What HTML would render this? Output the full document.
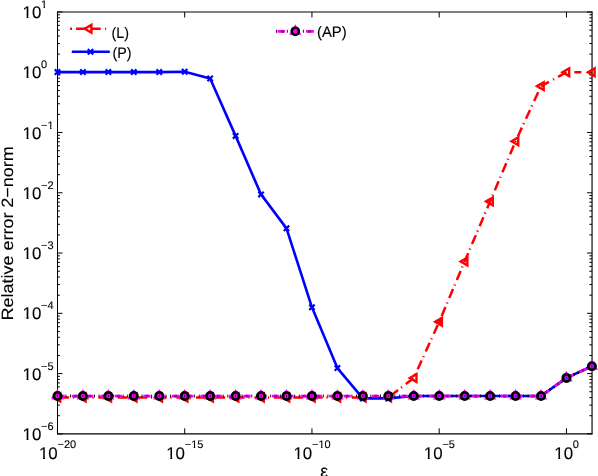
<!DOCTYPE html>
<html><head><meta charset="utf-8"><title>plot</title>
<style>html,body{margin:0;padding:0;background:#fff;}body{width:598px;height:476px;overflow:hidden;}svg{display:block;font-family:"Liberation Sans",sans-serif;text-rendering:geometricPrecision;}</style>
</head><body>
<svg width="598" height="476" viewBox="0 0 598 476">
<rect width="598" height="476" fill="#fff"/>
<g fill="none" stroke="#000" stroke-width="1">
<path d="M57.00 12.00H592.65" stroke-width="1.05"/>
<path d="M57.00 433.85H592.65" stroke-width="1.15"/>
<path d="M592.05 12.00V433.85" stroke-width="1.15"/>
<path d="M57.50 11.70V434.35"/>
<path d="M57.50 12.00h5M592.05 12.00h-5M57.50 54.12h2.4M592.05 54.12h-2.7M57.50 43.51h2.4M592.05 43.51h-2.7M57.50 35.98h2.4M592.05 35.98h-2.7M57.50 30.14h2.4M592.05 30.14h-2.7M57.50 25.37h2.4M592.05 25.37h-2.7M57.50 21.34h2.4M592.05 21.34h-2.7M57.50 17.84h2.4M592.05 17.84h-2.7M57.50 14.76h2.4M592.05 14.76h-2.7M57.50 72.26h5M592.05 72.26h-5M57.50 114.39h2.4M592.05 114.39h-2.7M57.50 103.78h2.4M592.05 103.78h-2.7M57.50 96.25h2.4M592.05 96.25h-2.7M57.50 90.41h2.4M592.05 90.41h-2.7M57.50 85.63h2.4M592.05 85.63h-2.7M57.50 81.60h2.4M592.05 81.60h-2.7M57.50 78.10h2.4M592.05 78.10h-2.7M57.50 75.02h2.4M592.05 75.02h-2.7M57.50 132.53h5M592.05 132.53h-5M57.50 174.65h2.4M592.05 174.65h-2.7M57.50 164.04h2.4M592.05 164.04h-2.7M57.50 156.51h2.4M592.05 156.51h-2.7M57.50 150.67h2.4M592.05 150.67h-2.7M57.50 145.90h2.4M592.05 145.90h-2.7M57.50 141.86h2.4M592.05 141.86h-2.7M57.50 138.37h2.4M592.05 138.37h-2.7M57.50 135.29h2.4M592.05 135.29h-2.7M57.50 192.79h5M592.05 192.79h-5M57.50 234.92h2.4M592.05 234.92h-2.7M57.50 224.30h2.4M592.05 224.30h-2.7M57.50 216.77h2.4M592.05 216.77h-2.7M57.50 210.93h2.4M592.05 210.93h-2.7M57.50 206.16h2.4M592.05 206.16h-2.7M57.50 202.13h2.4M592.05 202.13h-2.7M57.50 198.63h2.4M592.05 198.63h-2.7M57.50 195.55h2.4M592.05 195.55h-2.7M57.50 253.06h5M592.05 253.06h-5M57.50 295.18h2.4M592.05 295.18h-2.7M57.50 284.57h2.4M592.05 284.57h-2.7M57.50 277.04h2.4M592.05 277.04h-2.7M57.50 271.20h2.4M592.05 271.20h-2.7M57.50 266.43h2.4M592.05 266.43h-2.7M57.50 262.39h2.4M592.05 262.39h-2.7M57.50 258.90h2.4M592.05 258.90h-2.7M57.50 255.81h2.4M592.05 255.81h-2.7M57.50 313.32h5M592.05 313.32h-5M57.50 355.44h2.4M592.05 355.44h-2.7M57.50 344.83h2.4M592.05 344.83h-2.7M57.50 337.30h2.4M592.05 337.30h-2.7M57.50 331.46h2.4M592.05 331.46h-2.7M57.50 326.69h2.4M592.05 326.69h-2.7M57.50 322.66h2.4M592.05 322.66h-2.7M57.50 319.16h2.4M592.05 319.16h-2.7M57.50 316.08h2.4M592.05 316.08h-2.7M57.50 373.59h5M592.05 373.59h-5M57.50 415.71h2.4M592.05 415.71h-2.7M57.50 405.10h2.4M592.05 405.10h-2.7M57.50 397.57h2.4M592.05 397.57h-2.7M57.50 391.73h2.4M592.05 391.73h-2.7M57.50 386.96h2.4M592.05 386.96h-2.7M57.50 382.92h2.4M592.05 382.92h-2.7M57.50 379.43h2.4M592.05 379.43h-2.7M57.50 376.34h2.4M592.05 376.34h-2.7M57.50 433.85h5M592.05 433.85h-5M57.45 433.85v-5.5M57.45 12.00v5.5M184.70 433.85v-5.5M184.70 12.00v5.5M311.95 433.85v-5.5M311.95 12.00v5.5M439.20 433.85v-5.5M439.20 12.00v5.5M566.45 433.85v-5.5M566.45 12.00v5.5"/>
</g>
<g fill="#000" stroke="#000" stroke-width="0.12" style="filter:grayscale(1)">
<clipPath id="c0"><rect x="-37.50" y="-0.44" width="69.40" height="16.53"/><rect x="26.50" y="15.59" width="1.99" height="3.56"/><rect x="31.90" y="-0.44" width="120.00" height="25.35"/><rect x="-37.50" y="-0.44" width="60.00" height="25.35"/></clipPath>
<text x="22.50" y="18.15" font-size="16.90" textLength="18.79" lengthAdjust="spacingAndGlyphs" clip-path="url(#c0)">10</text>
<clipPath id="c1"><rect x="-18.91" y="-4.10" width="66.12" height="10.48"/><rect x="43.61" y="5.88" width="1.47" height="3.12"/><rect x="47.21" y="-4.10" width="120.00" height="16.50"/><rect x="-18.91" y="-4.10" width="60.00" height="16.50"/></clipPath>
<text x="41.09" y="8.00" font-size="11.00" clip-path="url(#c1)">1</text>
<clipPath id="c2"><rect x="-37.50" y="59.82" width="69.40" height="16.53"/><rect x="26.50" y="75.85" width="1.99" height="3.56"/><rect x="31.90" y="59.82" width="120.00" height="25.35"/><rect x="-37.50" y="59.82" width="60.00" height="25.35"/></clipPath>
<text x="22.50" y="78.41" font-size="16.90" textLength="18.79" lengthAdjust="spacingAndGlyphs" clip-path="url(#c2)">10</text>
<text x="41.09" y="68.26" font-size="11.00">0</text>
<clipPath id="c3"><rect x="-37.50" y="120.09" width="69.40" height="16.53"/><rect x="26.50" y="136.12" width="1.99" height="3.56"/><rect x="31.90" y="120.09" width="120.00" height="25.35"/><rect x="-37.50" y="120.09" width="60.00" height="25.35"/></clipPath>
<text x="22.50" y="138.68" font-size="16.90" textLength="18.79" lengthAdjust="spacingAndGlyphs" clip-path="url(#c3)">10</text>
<clipPath id="c4"><rect x="-12.48" y="116.43" width="66.12" height="10.48"/><rect x="50.03" y="126.41" width="1.47" height="3.12"/><rect x="53.63" y="116.43" width="120.00" height="16.50"/><rect x="-12.48" y="116.43" width="60.00" height="16.50"/></clipPath>
<text x="41.09" y="128.53" font-size="11.00" clip-path="url(#c4)">−1</text>
<clipPath id="c5"><rect x="-37.50" y="180.35" width="69.40" height="16.53"/><rect x="26.50" y="196.38" width="1.99" height="3.56"/><rect x="31.90" y="180.35" width="120.00" height="25.35"/><rect x="-37.50" y="180.35" width="60.00" height="25.35"/></clipPath>
<text x="22.50" y="198.94" font-size="16.90" textLength="18.79" lengthAdjust="spacingAndGlyphs" clip-path="url(#c5)">10</text>
<text x="41.09" y="188.79" font-size="11.00">−2</text>
<clipPath id="c6"><rect x="-37.50" y="240.62" width="69.40" height="16.53"/><rect x="26.50" y="256.64" width="1.99" height="3.56"/><rect x="31.90" y="240.62" width="120.00" height="25.35"/><rect x="-37.50" y="240.62" width="60.00" height="25.35"/></clipPath>
<text x="22.50" y="259.21" font-size="16.90" textLength="18.79" lengthAdjust="spacingAndGlyphs" clip-path="url(#c6)">10</text>
<text x="41.09" y="249.06" font-size="11.00">−3</text>
<clipPath id="c7"><rect x="-37.50" y="300.88" width="69.40" height="16.53"/><rect x="26.50" y="316.91" width="1.99" height="3.56"/><rect x="31.90" y="300.88" width="120.00" height="25.35"/><rect x="-37.50" y="300.88" width="60.00" height="25.35"/></clipPath>
<text x="22.50" y="319.47" font-size="16.90" textLength="18.79" lengthAdjust="spacingAndGlyphs" clip-path="url(#c7)">10</text>
<text x="41.09" y="309.32" font-size="11.00">−4</text>
<clipPath id="c8"><rect x="-37.50" y="361.15" width="69.40" height="16.53"/><rect x="26.50" y="377.17" width="1.99" height="3.56"/><rect x="31.90" y="361.15" width="120.00" height="25.35"/><rect x="-37.50" y="361.15" width="60.00" height="25.35"/></clipPath>
<text x="22.50" y="379.74" font-size="16.90" textLength="18.79" lengthAdjust="spacingAndGlyphs" clip-path="url(#c8)">10</text>
<text x="41.09" y="369.59" font-size="11.00">−5</text>
<clipPath id="c9"><rect x="-37.50" y="421.41" width="69.40" height="16.53"/><rect x="26.50" y="437.44" width="1.99" height="3.56"/><rect x="31.90" y="421.41" width="120.00" height="25.35"/><rect x="-37.50" y="421.41" width="60.00" height="25.35"/></clipPath>
<text x="22.50" y="440.00" font-size="16.90" textLength="18.79" lengthAdjust="spacingAndGlyphs" clip-path="url(#c9)">10</text>
<text x="41.09" y="429.85" font-size="11.00">−6</text>
<clipPath id="c10"><rect x="-21.02" y="439.91" width="69.40" height="16.53"/><rect x="42.98" y="455.94" width="1.99" height="3.56"/><rect x="48.38" y="439.91" width="120.00" height="25.35"/><rect x="-21.02" y="439.91" width="60.00" height="25.35"/></clipPath>
<text x="38.98" y="458.50" font-size="16.90" textLength="18.79" lengthAdjust="spacingAndGlyphs" clip-path="url(#c10)">10</text>
<text x="57.57" y="448.35" font-size="11.00">−20</text>
<clipPath id="c11"><rect x="106.23" y="439.91" width="69.40" height="16.53"/><rect x="170.23" y="455.94" width="1.99" height="3.56"/><rect x="175.63" y="439.91" width="120.00" height="25.35"/><rect x="106.23" y="439.91" width="60.00" height="25.35"/></clipPath>
<text x="166.23" y="458.50" font-size="16.90" textLength="18.79" lengthAdjust="spacingAndGlyphs" clip-path="url(#c11)">10</text>
<clipPath id="c12"><rect x="131.24" y="436.25" width="66.12" height="10.48"/><rect x="193.76" y="446.23" width="1.47" height="3.12"/><rect x="197.36" y="436.25" width="120.00" height="16.50"/><rect x="131.24" y="436.25" width="60.00" height="16.50"/></clipPath>
<text x="184.82" y="448.35" font-size="11.00" clip-path="url(#c12)">−15</text>
<clipPath id="c13"><rect x="233.48" y="439.91" width="69.40" height="16.53"/><rect x="297.48" y="455.94" width="1.99" height="3.56"/><rect x="302.88" y="439.91" width="120.00" height="25.35"/><rect x="233.48" y="439.91" width="60.00" height="25.35"/></clipPath>
<text x="293.48" y="458.50" font-size="16.90" textLength="18.79" lengthAdjust="spacingAndGlyphs" clip-path="url(#c13)">10</text>
<clipPath id="c14"><rect x="258.49" y="436.25" width="66.12" height="10.48"/><rect x="321.01" y="446.23" width="1.47" height="3.12"/><rect x="324.61" y="436.25" width="120.00" height="16.50"/><rect x="258.49" y="436.25" width="60.00" height="16.50"/></clipPath>
<text x="312.07" y="448.35" font-size="11.00" clip-path="url(#c14)">−10</text>
<clipPath id="c15"><rect x="363.78" y="439.91" width="69.40" height="16.53"/><rect x="427.78" y="455.94" width="1.99" height="3.56"/><rect x="433.18" y="439.91" width="120.00" height="25.35"/><rect x="363.78" y="439.91" width="60.00" height="25.35"/></clipPath>
<text x="423.78" y="458.50" font-size="16.90" textLength="18.79" lengthAdjust="spacingAndGlyphs" clip-path="url(#c15)">10</text>
<text x="442.38" y="448.35" font-size="11.00">−5</text>
<clipPath id="c16"><rect x="494.25" y="439.91" width="69.40" height="16.53"/><rect x="558.25" y="455.94" width="1.99" height="3.56"/><rect x="563.65" y="439.91" width="120.00" height="25.35"/><rect x="494.25" y="439.91" width="60.00" height="25.35"/></clipPath>
<text x="554.25" y="458.50" font-size="16.90" textLength="18.79" lengthAdjust="spacingAndGlyphs" clip-path="url(#c16)">10</text>
<text x="572.84" y="448.35" font-size="11.00">0</text>
<text transform="translate(12.9 320.5) rotate(-90)" font-size="16.4" textLength="174.3" lengthAdjust="spacingAndGlyphs">Relative error 2−norm</text>
<text x="324.2" y="476.9" font-size="17.5" text-anchor="middle">ε</text>
<text x="111.5" y="38.2" font-size="15.2" textLength="17.5" lengthAdjust="spacingAndGlyphs">(L)</text>
<text x="112.5" y="58.3" font-size="15.2" textLength="19.1" lengthAdjust="spacingAndGlyphs">(P)</text>
<text x="317.0" y="36.8" font-size="15.2" textLength="29.7" lengthAdjust="spacingAndGlyphs">(AP)</text>
</g>
<g fill="none">
<polyline points="57.45,397.50 82.90,397.50 108.35,397.50 133.80,397.50 159.25,397.50 184.70,397.50 210.15,397.50 235.60,397.50 261.05,397.50 286.50,397.50 311.95,397.50 337.40,397.50 362.85,397.50 388.30,397.50 413.75,378.00 439.20,321.80 464.65,261.50 490.10,201.40 515.55,141.30 541.00,86.15" stroke="#f00" stroke-width="2.5" stroke-dasharray="9.7 3.8 1.2 4.8" stroke-dashoffset="17.55"/>
<path d="M541.00 86.15L548.98 81.78M553.01 79.56L554.07 78.99M558.10 76.78L566.45 72.20M574.35 72.20H581.35" stroke="#f00" stroke-width="2.5"/>
<polygon points="53.45,397.50 60.15,393.63 60.15,401.37" fill="none" stroke="#f00" stroke-width="2.4" stroke-linejoin="miter"/>
<polygon points="78.90,397.50 85.60,393.63 85.60,401.37" fill="none" stroke="#f00" stroke-width="2.4" stroke-linejoin="miter"/>
<polygon points="104.35,397.50 111.05,393.63 111.05,401.37" fill="none" stroke="#f00" stroke-width="2.4" stroke-linejoin="miter"/>
<polygon points="129.80,397.50 136.50,393.63 136.50,401.37" fill="none" stroke="#f00" stroke-width="2.4" stroke-linejoin="miter"/>
<polygon points="155.25,397.50 161.95,393.63 161.95,401.37" fill="none" stroke="#f00" stroke-width="2.4" stroke-linejoin="miter"/>
<polygon points="180.70,397.50 187.40,393.63 187.40,401.37" fill="none" stroke="#f00" stroke-width="2.4" stroke-linejoin="miter"/>
<polygon points="206.15,397.50 212.85,393.63 212.85,401.37" fill="none" stroke="#f00" stroke-width="2.4" stroke-linejoin="miter"/>
<polygon points="231.60,397.50 238.30,393.63 238.30,401.37" fill="none" stroke="#f00" stroke-width="2.4" stroke-linejoin="miter"/>
<polygon points="257.05,397.50 263.75,393.63 263.75,401.37" fill="none" stroke="#f00" stroke-width="2.4" stroke-linejoin="miter"/>
<polygon points="282.50,397.50 289.20,393.63 289.20,401.37" fill="none" stroke="#f00" stroke-width="2.4" stroke-linejoin="miter"/>
<polygon points="307.95,397.50 314.65,393.63 314.65,401.37" fill="none" stroke="#f00" stroke-width="2.4" stroke-linejoin="miter"/>
<polygon points="333.40,397.50 340.10,393.63 340.10,401.37" fill="none" stroke="#f00" stroke-width="2.4" stroke-linejoin="miter"/>
<polygon points="358.85,397.50 365.55,393.63 365.55,401.37" fill="none" stroke="#f00" stroke-width="2.4" stroke-linejoin="miter"/>
<polygon points="384.30,397.50 391.00,393.63 391.00,401.37" fill="none" stroke="#f00" stroke-width="2.4" stroke-linejoin="miter"/>
<polygon points="409.75,378.00 416.45,374.13 416.45,381.87" fill="none" stroke="#f00" stroke-width="2.4" stroke-linejoin="miter"/>
<polygon points="435.20,321.80 441.90,317.93 441.90,325.67" fill="#f00" stroke="#f00" stroke-width="2.4" stroke-linejoin="miter"/>
<polygon points="460.65,261.50 467.35,257.63 467.35,265.37" fill="none" stroke="#f00" stroke-width="2.4" stroke-linejoin="miter"/>
<polygon points="486.10,201.40 492.80,197.53 492.80,205.27" fill="none" stroke="#f00" stroke-width="2.4" stroke-linejoin="miter"/>
<polygon points="511.55,141.30 518.25,137.43 518.25,145.17" fill="none" stroke="#f00" stroke-width="2.4" stroke-linejoin="miter"/>
<polygon points="537.00,86.15 543.70,82.28 543.70,90.02" fill="none" stroke="#f00" stroke-width="2.4" stroke-linejoin="miter"/>
<polygon points="562.45,72.20 569.15,68.33 569.15,76.07" fill="none" stroke="#f00" stroke-width="2.4" stroke-linejoin="miter"/>
<polygon points="587.90,72.20 594.60,68.33 594.60,76.07" fill="none" stroke="#f00" stroke-width="2.4" stroke-linejoin="miter"/>
<polyline points="57.45,72.10 82.90,72.10 108.35,72.10 133.80,72.10 159.25,72.10 184.70,71.70 210.15,78.50 235.60,135.90 261.05,194.40 286.50,228.35 311.95,307.30 337.40,368.10 362.85,398.40 388.30,398.40 413.75,396.05 439.20,396.05 464.65,396.05 490.10,396.05 515.55,396.05 541.00,396.05 566.45,377.90 591.90,366.30" stroke="#00f" stroke-width="2.6" stroke-linejoin="round"/>
<polyline points="57.45,396.05 82.90,396.05 108.35,396.05 133.80,396.05 159.25,396.05 184.70,396.05 210.15,396.05 235.60,396.05 261.05,396.05 286.50,396.05 311.95,396.05 337.40,396.05 362.85,396.05 388.30,396.05 413.75,396.05 439.20,396.05 464.65,396.05 490.10,396.05 515.55,396.05 541.00,396.05 566.45,377.90 591.90,366.30" stroke="#f0f" stroke-width="2.8" stroke-dasharray="7.3 7"/>
<polyline points="57.45,396.05 82.90,396.05 108.35,396.05 133.80,396.05 159.25,396.05 184.70,396.05 210.15,396.05 235.60,396.05 261.05,396.05 286.50,396.05 311.95,396.05 337.40,396.05 362.85,396.05 388.30,396.05 413.75,396.05 439.20,396.05 464.65,396.05 490.10,396.05 515.55,396.05 541.00,396.05 566.45,377.90 591.90,366.30" stroke="#a0a" stroke-width="2.8" stroke-dasharray="3 11.3" stroke-dashoffset="12.1"/>
<polyline points="57.45,396.05 82.90,396.05 108.35,396.05 133.80,396.05 159.25,396.05 184.70,396.05 210.15,396.05 235.60,396.05 261.05,396.05 286.50,396.05 311.95,396.05 337.40,396.05 362.85,396.05 388.30,396.05 413.75,396.05 439.20,396.05 464.65,396.05 490.10,396.05 515.55,396.05 541.00,396.05 566.45,377.90 591.90,366.30" stroke="#101" stroke-width="3" stroke-dasharray="0.9 3.7 0.9 8.8" stroke-dashoffset="6.3"/>
<path d="M54.75 69.40l5.40 5.40M54.75 74.80l5.40 -5.40" stroke="#00f" stroke-width="2.2" fill="none"/>
<path d="M80.20 69.40l5.40 5.40M80.20 74.80l5.40 -5.40" stroke="#00f" stroke-width="2.2" fill="none"/>
<path d="M105.65 69.40l5.40 5.40M105.65 74.80l5.40 -5.40" stroke="#00f" stroke-width="2.2" fill="none"/>
<path d="M131.10 69.40l5.40 5.40M131.10 74.80l5.40 -5.40" stroke="#00f" stroke-width="2.2" fill="none"/>
<path d="M156.55 69.40l5.40 5.40M156.55 74.80l5.40 -5.40" stroke="#00f" stroke-width="2.2" fill="none"/>
<path d="M182.00 69.00l5.40 5.40M182.00 74.40l5.40 -5.40" stroke="#00f" stroke-width="2.2" fill="none"/>
<path d="M207.45 75.80l5.40 5.40M207.45 81.20l5.40 -5.40" stroke="#00f" stroke-width="2.2" fill="none"/>
<path d="M232.90 133.20l5.40 5.40M232.90 138.60l5.40 -5.40" stroke="#00f" stroke-width="2.2" fill="none"/>
<path d="M258.35 191.70l5.40 5.40M258.35 197.10l5.40 -5.40" stroke="#00f" stroke-width="2.2" fill="none"/>
<path d="M283.80 225.65l5.40 5.40M283.80 231.05l5.40 -5.40" stroke="#00f" stroke-width="2.2" fill="none"/>
<path d="M309.25 304.60l5.40 5.40M309.25 310.00l5.40 -5.40" stroke="#00f" stroke-width="2.2" fill="none"/>
<path d="M334.70 365.40l5.40 5.40M334.70 370.80l5.40 -5.40" stroke="#00f" stroke-width="2.2" fill="none"/>
<path d="M360.15 395.70l5.40 5.40M360.15 401.10l5.40 -5.40" stroke="#00f" stroke-width="2.2" fill="none"/>
<path d="M385.60 395.70l5.40 5.40M385.60 401.10l5.40 -5.40" stroke="#00f" stroke-width="2.2" fill="none"/>
<path d="M411.05 393.35l5.40 5.40M411.05 398.75l5.40 -5.40" stroke="#00f" stroke-width="2.2" fill="none"/>
<path d="M436.50 393.35l5.40 5.40M436.50 398.75l5.40 -5.40" stroke="#00f" stroke-width="2.2" fill="none"/>
<path d="M461.95 393.35l5.40 5.40M461.95 398.75l5.40 -5.40" stroke="#00f" stroke-width="2.2" fill="none"/>
<path d="M487.40 393.35l5.40 5.40M487.40 398.75l5.40 -5.40" stroke="#00f" stroke-width="2.2" fill="none"/>
<path d="M512.85 393.35l5.40 5.40M512.85 398.75l5.40 -5.40" stroke="#00f" stroke-width="2.2" fill="none"/>
<path d="M538.30 393.35l5.40 5.40M538.30 398.75l5.40 -5.40" stroke="#00f" stroke-width="2.2" fill="none"/>
<path d="M563.75 375.20l5.40 5.40M563.75 380.60l5.40 -5.40" stroke="#00f" stroke-width="2.2" fill="none"/>
<path d="M589.20 363.60l5.40 5.40M589.20 369.00l5.40 -5.40" stroke="#00f" stroke-width="2.2" fill="none"/>
<polygon points="57.45,388.95 51.30,399.60 63.60,399.60" fill="#f0f" stroke="none"/>
<polygon points="82.90,388.95 76.75,399.60 89.05,399.60" fill="#f0f" stroke="none"/>
<polygon points="108.35,388.95 102.20,399.60 114.50,399.60" fill="#f0f" stroke="none"/>
<polygon points="133.80,388.95 127.65,399.60 139.95,399.60" fill="#f0f" stroke="none"/>
<polygon points="159.25,388.95 153.10,399.60 165.40,399.60" fill="#f0f" stroke="none"/>
<polygon points="184.70,388.95 178.55,399.60 190.85,399.60" fill="#f0f" stroke="none"/>
<polygon points="210.15,388.95 204.00,399.60 216.30,399.60" fill="#f0f" stroke="none"/>
<polygon points="235.60,388.95 229.45,399.60 241.75,399.60" fill="#f0f" stroke="none"/>
<polygon points="261.05,388.95 254.90,399.60 267.20,399.60" fill="#f0f" stroke="none"/>
<polygon points="286.50,388.95 280.35,399.60 292.65,399.60" fill="#f0f" stroke="none"/>
<polygon points="311.95,388.95 305.80,399.60 318.10,399.60" fill="#f0f" stroke="none"/>
<polygon points="337.40,388.95 331.25,399.60 343.55,399.60" fill="#f0f" stroke="none"/>
<polygon points="362.85,388.95 356.70,399.60 369.00,399.60" fill="#f0f" stroke="none"/>
<polygon points="388.30,388.95 382.15,399.60 394.45,399.60" fill="#f0f" stroke="none"/>
<polygon points="413.75,388.95 407.60,399.60 419.90,399.60" fill="#f0f" stroke="none"/>
<polygon points="439.20,388.95 433.05,399.60 445.35,399.60" fill="#f0f" stroke="none"/>
<polygon points="464.65,388.95 458.50,399.60 470.80,399.60" fill="#f0f" stroke="none"/>
<polygon points="490.10,388.95 483.95,399.60 496.25,399.60" fill="#f0f" stroke="none"/>
<polygon points="515.55,388.95 509.40,399.60 521.70,399.60" fill="#f0f" stroke="none"/>
<polygon points="541.00,388.95 534.85,399.60 547.15,399.60" fill="#f0f" stroke="none"/>
<polygon points="566.45,370.80 560.30,381.45 572.60,381.45" fill="#f0f" stroke="none"/>
<polygon points="591.90,359.20 585.75,369.85 598.05,369.85" fill="#f0f" stroke="none"/>
<circle cx="57.45" cy="396.05" r="3.6" fill="none" stroke="#000" stroke-width="2.8"/><path d="M57.45 394.85v2.4" stroke="#202" stroke-width="0.9"/>
<circle cx="82.90" cy="396.05" r="3.6" fill="none" stroke="#000" stroke-width="2.8"/><path d="M82.90 394.85v2.4" stroke="#202" stroke-width="0.9"/>
<circle cx="108.35" cy="396.05" r="3.6" fill="none" stroke="#000" stroke-width="2.8"/><path d="M108.35 394.85v2.4" stroke="#202" stroke-width="0.9"/>
<circle cx="133.80" cy="396.05" r="3.6" fill="none" stroke="#000" stroke-width="2.8"/><path d="M133.80 394.85v2.4" stroke="#202" stroke-width="0.9"/>
<circle cx="159.25" cy="396.05" r="3.6" fill="none" stroke="#000" stroke-width="2.8"/><path d="M159.25 394.85v2.4" stroke="#202" stroke-width="0.9"/>
<circle cx="184.70" cy="396.05" r="3.6" fill="none" stroke="#000" stroke-width="2.8"/><path d="M184.70 394.85v2.4" stroke="#202" stroke-width="0.9"/>
<circle cx="210.15" cy="396.05" r="3.6" fill="none" stroke="#000" stroke-width="2.8"/><path d="M210.15 394.85v2.4" stroke="#202" stroke-width="0.9"/>
<circle cx="235.60" cy="396.05" r="3.6" fill="none" stroke="#000" stroke-width="2.8"/><path d="M235.60 394.85v2.4" stroke="#202" stroke-width="0.9"/>
<circle cx="261.05" cy="396.05" r="3.6" fill="none" stroke="#000" stroke-width="2.8"/><path d="M261.05 394.85v2.4" stroke="#202" stroke-width="0.9"/>
<circle cx="286.50" cy="396.05" r="3.6" fill="none" stroke="#000" stroke-width="2.8"/><path d="M286.50 394.85v2.4" stroke="#202" stroke-width="0.9"/>
<circle cx="311.95" cy="396.05" r="3.6" fill="none" stroke="#000" stroke-width="2.8"/><path d="M311.95 394.85v2.4" stroke="#202" stroke-width="0.9"/>
<circle cx="337.40" cy="396.05" r="3.6" fill="none" stroke="#000" stroke-width="2.8"/><path d="M337.40 394.85v2.4" stroke="#202" stroke-width="0.9"/>
<circle cx="362.85" cy="396.05" r="3.6" fill="none" stroke="#000" stroke-width="2.8"/><path d="M362.85 394.85v2.4" stroke="#202" stroke-width="0.9"/>
<circle cx="388.30" cy="396.05" r="3.6" fill="none" stroke="#000" stroke-width="2.8"/><path d="M388.30 394.85v2.4" stroke="#202" stroke-width="0.9"/>
<circle cx="413.75" cy="396.05" r="3.6" fill="none" stroke="#000" stroke-width="2.8"/><path d="M413.75 394.85v2.4" stroke="#22f" stroke-width="1.8"/>
<circle cx="439.20" cy="396.05" r="3.6" fill="none" stroke="#000" stroke-width="2.8"/><path d="M439.20 394.85v2.4" stroke="#22f" stroke-width="1.8"/>
<circle cx="464.65" cy="396.05" r="3.6" fill="none" stroke="#000" stroke-width="2.8"/><path d="M464.65 394.85v2.4" stroke="#22f" stroke-width="1.8"/>
<circle cx="490.10" cy="396.05" r="3.6" fill="none" stroke="#000" stroke-width="2.8"/><path d="M490.10 394.85v2.4" stroke="#22f" stroke-width="1.8"/>
<circle cx="515.55" cy="396.05" r="3.6" fill="none" stroke="#000" stroke-width="2.8"/><path d="M515.55 394.85v2.4" stroke="#22f" stroke-width="1.8"/>
<circle cx="541.00" cy="396.05" r="3.6" fill="none" stroke="#000" stroke-width="2.8"/><path d="M541.00 394.85v2.4" stroke="#22f" stroke-width="1.8"/>
<circle cx="566.45" cy="377.90" r="3.6" fill="none" stroke="#000" stroke-width="2.8"/><path d="M566.45 376.70v2.4" stroke="#22f" stroke-width="1.8"/>
<circle cx="591.90" cy="366.30" r="3.6" fill="none" stroke="#000" stroke-width="2.8"/><path d="M591.90 365.10v2.4" stroke="#22f" stroke-width="1.8"/>
</g>
<g fill="none">
<path d="M70.2 28.7h1.8M76 28.7h24.7M105.1 28.7h1" stroke="#f00" stroke-width="2.6"/>
<polygon points="84.70,28.80 91.40,24.93 91.40,32.67" fill="#fff" stroke="#f00" stroke-width="2.4" stroke-linejoin="miter"/>
<path d="M71.8 51.8H109.8" stroke="#00f" stroke-width="2.6"/>
<path d="M87.80 49.10l5.40 5.40M87.80 54.50l5.40 -5.40" stroke="#00f" stroke-width="2.2" fill="none"/>
<path d="M277.5 31.3H285M306 31.3H313.9" stroke="#f0f" stroke-width="2.8"/>
<path d="M280.9 31.3h2.9M308 31.3h3" stroke="#a0a" stroke-width="2.8"/>
<path d="M276 31.3h.9M286.8 31.3h.9M302.9 31.3h.9" stroke="#101" stroke-width="3"/>
<polygon points="295.30,24.20 289.15,34.85 301.45,34.85" fill="#f0f" stroke="none"/>
<circle cx="295.3" cy="31.3" r="3.6" fill="none" stroke="#000" stroke-width="2.5"/>
</g>
</svg></body></html>
